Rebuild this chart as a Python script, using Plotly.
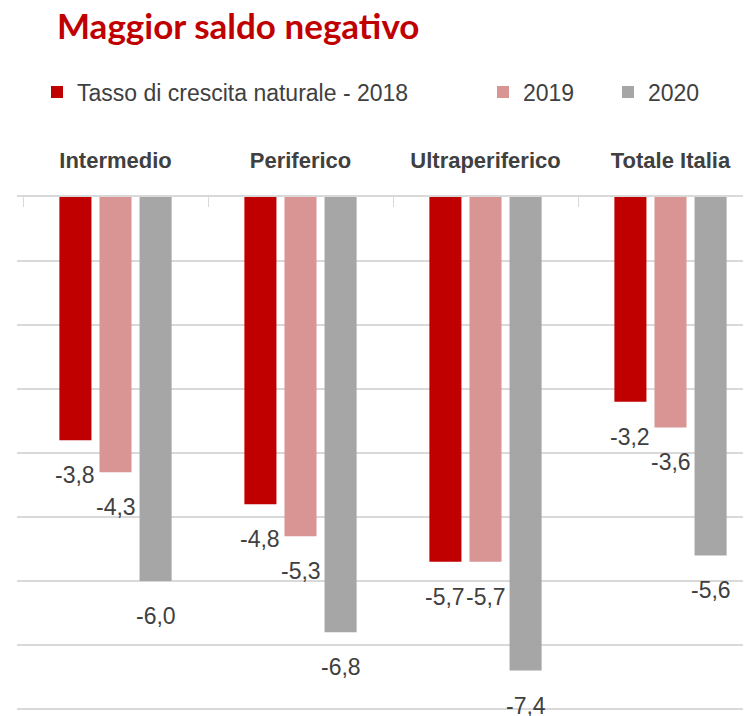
import plotly.graph_objects as go

# ---- data ----
categories = ["Intermedio", "Periferico", "Ultraperiferico", "Totale Italia"]
series_names = ["Tasso di crescita naturale - 2018", "2019", "2020"]
v2018 = [-3.8, -4.8, -5.7, -3.2]
v2019 = [-4.3, -5.3, -5.7, -3.6]
v2020 = [-6.0, -6.8, -7.4, -5.6]
title_text = "Maggior saldo negativo"

# ---- styles ----
colors = ["#C00000", "#D99594", "#A6A6A6"]
SANS = "Liberation Sans, Arial, sans-serif"
TXT = "#404040"
GRID = "#D9D9D9"

OFF = 8  # default page body margin
W, H = 751 - OFF, 716 - OFF
ML, MT = 17 - OFF, 197 - OFF
plot_w = W - ML
cat_px = 185.0
x0 = -0.5 - 6 / cat_px
x1 = x0 + plot_w / cat_px
unit_px = 64.0
y_lo = -(H - MT) / unit_px

bargap, bargroupgap = 0.35, 0.2
slot_px = cat_px * (1 - bargap) / 3

fig = go.Figure()
legend_ids = ["legend", "legend2", "legend3"]
all_vals = [v2018, v2019, v2020]
for i, (name, vals) in enumerate(zip(series_names, all_vals)):
    fig.add_trace(go.Bar(
        x=categories, y=vals, name=name,
        marker=dict(color=colors[i], line=dict(width=0)),
        legend=legend_ids[i], hoverinfo="skip",
    ))
    for c, v in zip(categories, vals):
        fig.add_annotation(
            x=c, y=v, xref="x", yref="y",
            text=f"{v:.1f}".replace(".", ","),
            showarrow=False, xshift=(i - 1) * slot_px, yshift=-35,
            xanchor="center", yanchor="middle",
            font=dict(family=SANS, size=23, color=TXT),
        )

leg_common = dict(orientation="h", xref="container", yref="container",
                  xanchor="left", yanchor="middle", bgcolor="rgba(0,0,0,0)",
                  font=dict(family=SANS, size=23, color=TXT))
leg_text_x = [77, 523, 648]          # page x of legend texts
leg_y = 1 - (92 - OFF) / H

fig.update_layout(
    width=W, height=H,
    margin=dict(l=ML, r=0, t=MT, b=0, pad=0, autoexpand=False),
    paper_bgcolor="white", plot_bgcolor="white",
    barmode="group", bargap=bargap, bargroupgap=bargroupgap,
    title=dict(text=title_text, x=49 / W, xref="container", xanchor="left",
               y=1 - 19 / H, yref="container", yanchor="middle",
               font=dict(family="Lato, Open Sans, sans-serif", size=35,
                         color="#C00000", weight="bold")),
    legend=dict(x=(leg_text_x[0] - OFF - 40) / W, y=leg_y, **leg_common),
    legend2=dict(x=(leg_text_x[1] - OFF - 40) / W, y=leg_y, **leg_common),
    legend3=dict(x=(leg_text_x[2] - OFF - 40) / W, y=leg_y, **leg_common),
    xaxis=dict(side="top", range=[x0, x1], showgrid=False, automargin=False,
               showline=True, linecolor=GRID, linewidth=2,
               ticks="inside", tickson="boundaries", ticklen=10,
               tickcolor=GRID, tickwidth=1, ticklabelstandoff=18, tickangle=0,
               tickfont=dict(family=SANS, size=22, color=TXT, weight="bold"),
               fixedrange=True),
    yaxis=dict(range=[y_lo, 0], dtick=1, showgrid=True, gridcolor=GRID,
               gridwidth=2, zeroline=False, showticklabels=False,
               showline=False, automargin=False, fixedrange=True),
    showlegend=True,
)

fig.write_html("out.html")
